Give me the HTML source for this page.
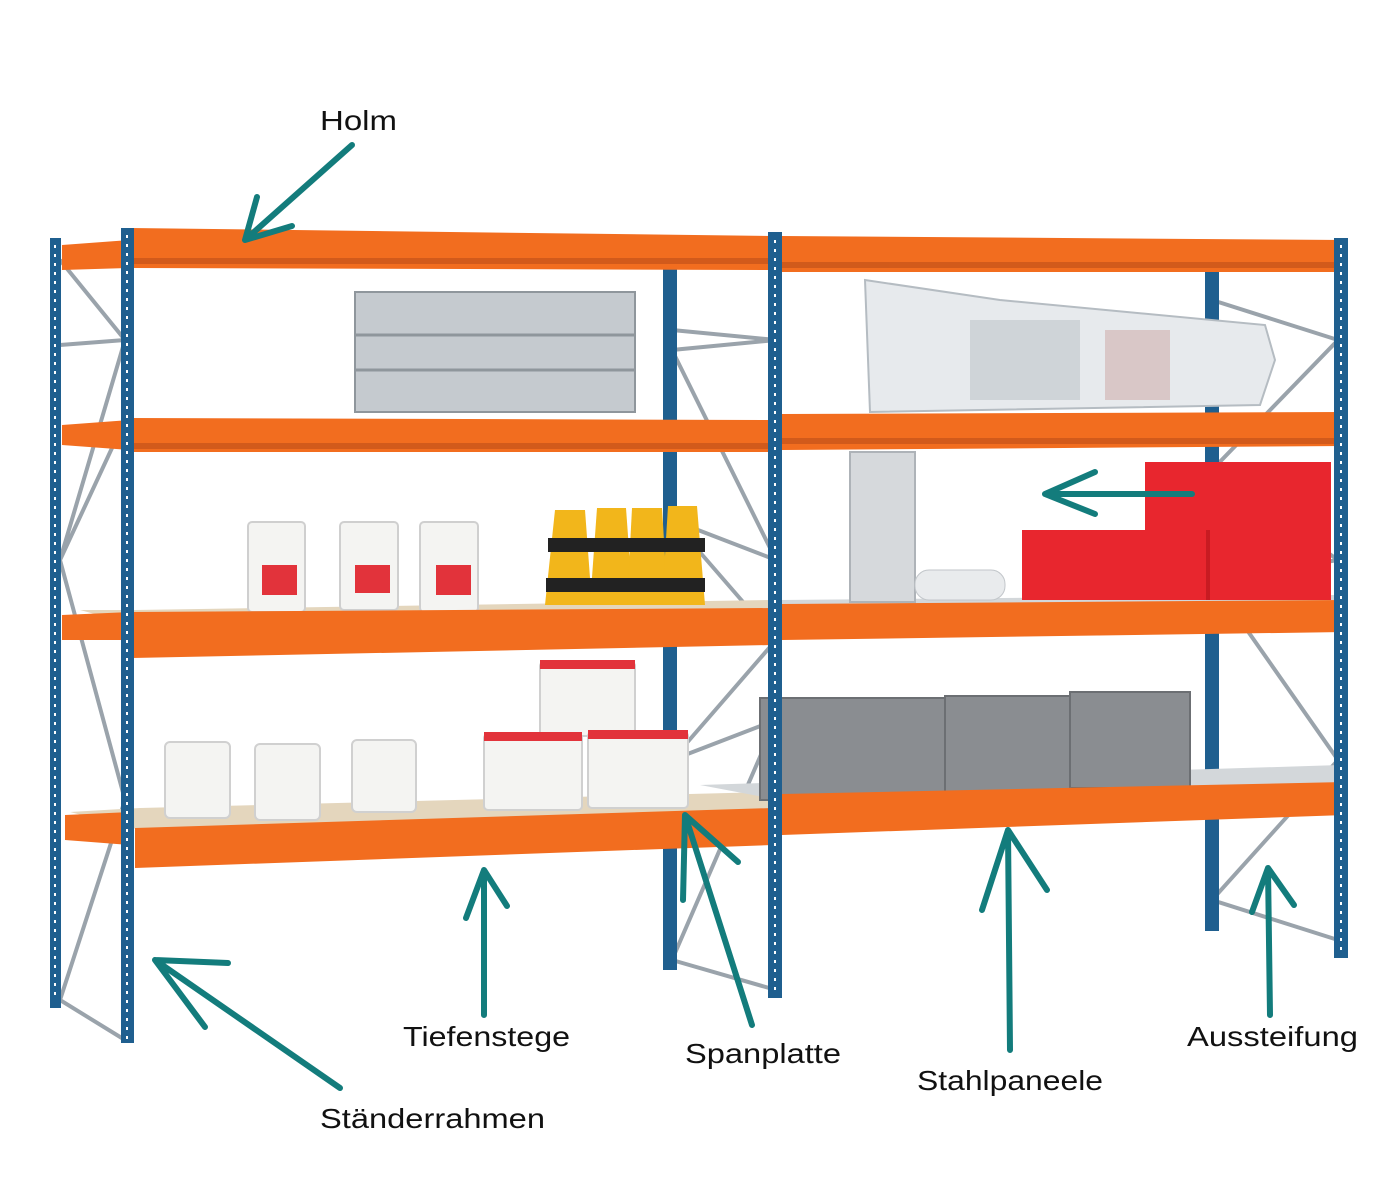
<!DOCTYPE html>
<html><head><meta charset="utf-8"><style>
html,body{margin:0;padding:0;background:#fff;}
svg{display:block}
text{font-family:"Liberation Sans",sans-serif;font-size:28px;fill:#111;}
</style></head><body>
<svg width="1400" height="1200" viewBox="0 0 1400 1200" xmlns="http://www.w3.org/2000/svg">
<rect width="1400" height="1200" fill="#fff"/>
<g stroke="#9aa3ab" stroke-width="4" fill="none">
<polyline points="60,260 125,340 60,560 125,420 60,560 125,800 60,1000 125,1040"/>
<line x1="60" y1="345" x2="125" y2="340"/>
<polyline points="672,330 776,340 672,350 776,560 672,520 776,640 672,760 776,720 672,960 776,990"/>
<polyline points="1212,300 1338,340 1212,470 1338,560 1212,580 1338,760 1212,900 1338,940"/>
</g>
<g fill="#1f5f8f">
<rect x="50" y="238" width="11" height="770"/>
<rect x="663" y="262" width="14" height="708"/>
<rect x="1205" y="266" width="14" height="665"/>
</g>
<polygon points="80,610 135,610 770,600 770,615 135,625" fill="#e4d6bd"/>
<polygon points="70,812 140,808 770,792 770,812 140,830" fill="#e4d6bd"/>
<polygon points="700,785 1340,765 1340,785 780,800" fill="#d3d7da"/>
<polygon points="780,600 1335,595 1335,605 780,610" fill="#d3d7da"/>
<rect x="355" y="292" width="280" height="120" fill="#c5cacf" stroke="#8f969c" stroke-width="2"/>
<line x1="355" y1="335" x2="635" y2="335" stroke="#8f969c" stroke-width="3"/>
<line x1="355" y1="370" x2="635" y2="370" stroke="#8f969c" stroke-width="3"/>
<polygon points="865,280 1000,300 1265,325 1275,360 1260,405 870,412" fill="#e7eaed" stroke="#b5bcc2" stroke-width="2"/>
<rect x="970" y="320" width="110" height="80" fill="#cfd4d8"/>
<rect x="1105" y="330" width="65" height="70" fill="#d9c7c7"/>
<g fill="#f4f4f2" stroke="#cfcfcf" stroke-width="2">
<rect x="248" y="522" width="57" height="90" rx="4"/>
<rect x="340" y="522" width="58" height="88" rx="4"/>
<rect x="420" y="522" width="58" height="90" rx="4"/>
</g>
<g fill="#e2333b"><rect x="262" y="565" width="35" height="30"/><rect x="355" y="565" width="35" height="28"/><rect x="436" y="565" width="35" height="30"/></g>
<g>
<polygon points="555,510 585,510 592,605 545,605" fill="#f2b61b"/>
<polygon points="597,508 626,508 633,605 590,605" fill="#f2b61b"/>
<polygon points="632,508 662,508 668,605 627,605" fill="#f2b61b"/>
<polygon points="668,506 697,506 705,605 662,605" fill="#f2b61b"/>
<g stroke="#222" stroke-width="14"><line x1="548" y1="545" x2="705" y2="545"/><line x1="546" y1="585" x2="705" y2="585"/></g>
</g>
<rect x="850" y="452" width="65" height="150" fill="#d6d9dc" stroke="#aeb3b8" stroke-width="2"/>
<rect x="915" y="570" width="90" height="30" rx="14" fill="#e9ebed" stroke="#c2c6ca"/>
<rect x="1145" y="462" width="186" height="70" fill="#e8262e"/>
<rect x="1022" y="530" width="309" height="70" fill="#e8262e"/>
<line x1="1208" y1="530" x2="1208" y2="600" stroke="#c81b22" stroke-width="4"/>
<g fill="#f4f4f2" stroke="#d0d0d0" stroke-width="2">
<rect x="165" y="742" width="65" height="76" rx="5"/>
<rect x="255" y="744" width="65" height="76" rx="5"/>
<rect x="352" y="740" width="64" height="72" rx="5"/>
<rect x="540" y="662" width="95" height="74" rx="4"/>
<rect x="484" y="734" width="98" height="76" rx="4"/>
<rect x="588" y="732" width="100" height="76" rx="4"/>
</g>
<g fill="#e2333b"><rect x="540" y="660" width="95" height="9"/><rect x="484" y="732" width="98" height="9"/><rect x="588" y="730" width="100" height="9"/></g>
<g fill="#8a8d91" stroke="#6c6f73" stroke-width="2">
<rect x="760" y="698" width="185" height="102"/>
<rect x="945" y="696" width="125" height="100"/>
<rect x="1070" y="692" width="120" height="96"/>
</g>
<g fill="#f26d1f">
<polygon points="130,228 772,236 772,270 130,268"/>
<polygon points="782,236 1345,240 1345,272 782,272"/>
<polygon points="130,418 772,420 772,452 130,452"/>
<polygon points="782,414 1345,412 1345,446 782,450"/>
<polygon points="132,612 772,608 772,645 132,658"/>
<polygon points="782,604 1345,600 1345,632 782,640"/>
<polygon points="135,828 772,808 772,845 135,868"/>
<polygon points="782,794 1345,782 1345,815 782,835"/>
<polygon points="62,245 130,240 130,268 62,270"/>
<polygon points="62,425 130,420 130,450 62,445"/>
<polygon points="62,615 130,612 130,640 62,640"/>
<polygon points="65,815 130,812 130,845 65,840"/>
</g>
<g fill="#c4531a" opacity=".7">
<rect x="130" y="258" width="642" height="6"/><rect x="782" y="262" width="563" height="6"/>
<rect x="130" y="443" width="642" height="6"/><rect x="782" y="438" width="563" height="6"/>
</g>
<g fill="#1f5f8f">
<rect x="121" y="228" width="13" height="815"/>
<rect x="768" y="232" width="14" height="766"/>
<rect x="1334" y="238" width="14" height="720"/>
</g>
<g stroke="#fff" stroke-width="2" stroke-dasharray="3 6">
<line x1="127" y1="235" x2="127" y2="1040"/><line x1="775" y1="240" x2="775" y2="995"/><line x1="1341" y1="245" x2="1341" y2="955"/>
<line x1="55" y1="245" x2="55" y2="1000"/>
</g>
<g stroke="#137c7c" stroke-width="6" fill="none" stroke-linecap="round" stroke-linejoin="round">
<path d="M352,145 L245,240 M245,240 L257,197 M245,240 L292,226"/>
<path d="M340,1088 L155,960 M155,960 L228,963 M155,960 L205,1027"/>
<path d="M484,1015 L484,870 M484,870 L466,918 M484,870 L507,906"/>
<path d="M752,1025 L685,815 M685,815 L683,900 M685,815 L738,862"/>
<path d="M1010,1050 L1008,830 M1008,830 L982,910 M1008,830 L1047,890"/>
<path d="M1270,1015 L1268,868 M1268,868 L1252,912 M1268,868 L1294,905"/>
<path d="M1192,494 L1045,494 M1045,494 L1095,472 M1045,494 L1095,514"/>
</g>
<text x="320" y="130" textLength="77" lengthAdjust="spacingAndGlyphs">Holm</text>
<text x="403" y="1046" textLength="167" lengthAdjust="spacingAndGlyphs">Tiefenstege</text>
<text x="685" y="1063" textLength="156" lengthAdjust="spacingAndGlyphs">Spanplatte</text>
<text x="917" y="1090" textLength="186" lengthAdjust="spacingAndGlyphs">Stahlpaneele</text>
<text x="1187" y="1046" textLength="171" lengthAdjust="spacingAndGlyphs">Aussteifung</text>
<text x="320" y="1128" textLength="225" lengthAdjust="spacingAndGlyphs">Ständerrahmen</text>
</svg>
</body></html>
